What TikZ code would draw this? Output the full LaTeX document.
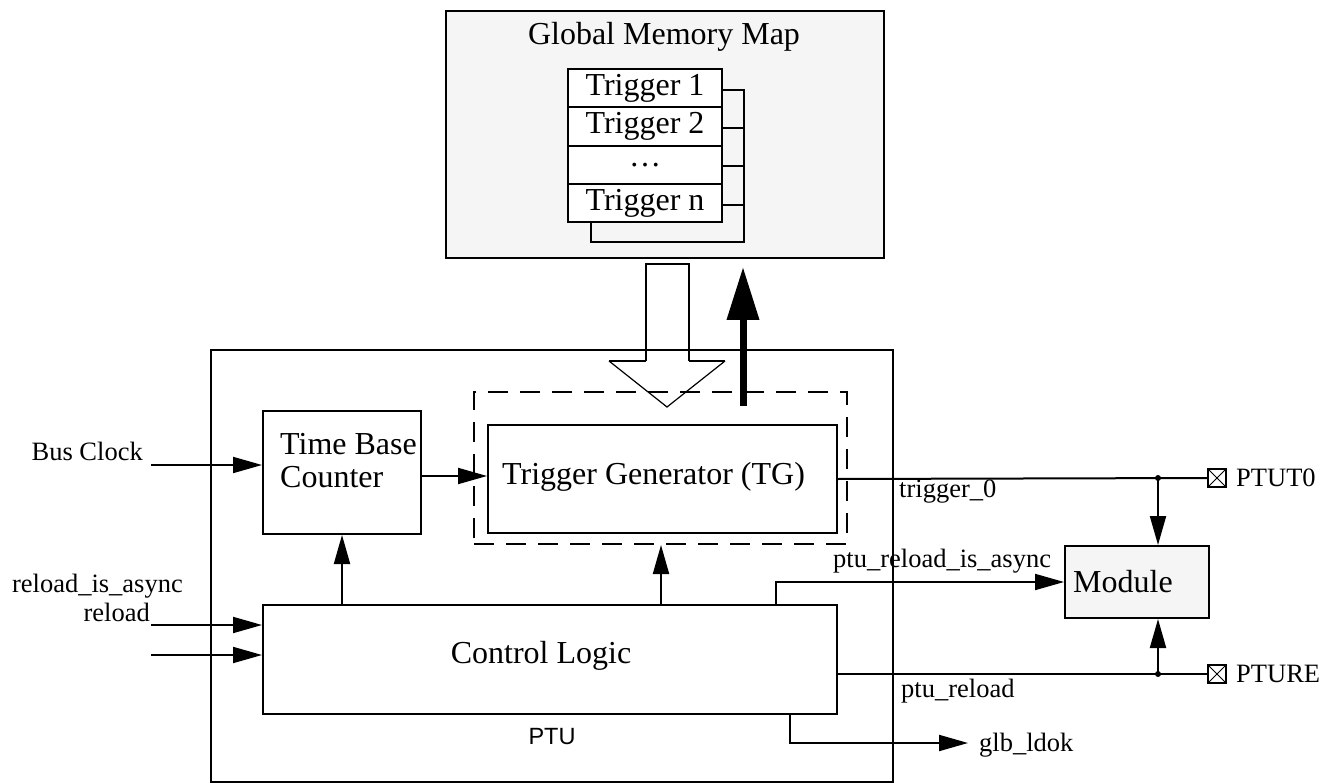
\documentclass[tikz,border=0pt]{standalone}
\usepackage{fontspec}
\setmainfont{Liberation Serif}
\newfontfamily\ptusans{Liberation Sans}
\usetikzlibrary{arrows.meta}
\definecolor{memfill}{RGB}{245,245,245}
\newcommand\bigtxt{\fontsize{32}{33}\selectfont}
\newcommand\smtxt{\fontsize{26.5}{30}\selectfont}
\begin{document}
\begin{tikzpicture}[x=1pt,y=-1pt,
  box/.style={draw, line width=2pt, inner sep=0pt, anchor=north west, font=\bigtxt},
  lbl/.style={inner sep=0pt, font=\smtxt},
  blk/.style={inner sep=0pt, font=\bigtxt},
  wire/.style={line width=2pt},
  arr/.style={line width=2pt, -{Triangle[length=29pt,width=16pt]}},
  pin/.style={draw, line width=1.5pt, minimum size=18pt, inner sep=0pt,
    path picture={\draw[line width=1pt] (path picture bounding box.north west) -- (path picture bounding box.south east) (path picture bounding box.north east) -- (path picture bounding box.south west);}},
  jdot/.style={circle, fill, inner sep=0pt, minimum size=6pt},
]
\useasboundingbox (0,0) rectangle (1335,783);

% Global memory map
\node[box, fill=memfill, minimum width=438pt, minimum height=247pt] (mem) at (445,10) {};
\node[blk, anchor=base] (memt) at (664,45) {Global Memory Map};
\draw[wire] (721,90) -- (744,90) -- (744,242) -- (591,242) -- (591,221);
\draw[wire] (721,128) -- (744,128) (721,166) -- (744,166) (721,205) -- (744,205);
\node[box, fill=white, minimum width=154pt, minimum height=38pt] (t1) at (567,68) {Trigger 1};
\node[box, fill=white, minimum width=154pt, minimum height=39pt] (t2) at (567,106) {Trigger 2};
\node[box, fill=white, minimum width=154pt, minimum height=38pt] (t3) at (567,145) {\dots};
\node[box, fill=white, minimum width=154pt, minimum height=38pt] (tn) at (567,183) {Trigger n};

% PTU
\node[box, minimum width=682pt, minimum height=432pt] (ptu) at (210,349) {};
\node[inner sep=0pt, font=\ptusans\fontsize{23.5}{26}\selectfont] (ptul) at (552,737) {PTU};

% hollow arrow (memory to TG)
\draw[line width=2pt] (646,361) -- (646,264) -- (689,264) -- (689,361);
\draw[line width=2pt] (646,361) -- (609,361) (689,361) -- (725,361);
\draw[line width=1.2pt] (609,361) -- (667,407) -- (725,361);

% blocks
\node[box, dash pattern=on 20pt off 12pt, minimum width=373pt, minimum height=152pt] (tgd) at (473,391) {};
\node[box, minimum width=349pt, minimum height=108pt] (tg) at (487,424) {};
\node[blk, anchor=west] (tgl) at (502,477) {Trigger Generator (TG)};
\node[box, minimum width=158pt, minimum height=123pt] (tbc) at (262,410) {};
\node[blk, anchor=west, align=left] (tbcl) at (280,461) {Time Base\\Counter};
\node[box, minimum width=574pt, minimum height=109pt] (cl) at (262,604) {};
\node[blk] (cll) at (541,656) {Control Logic};
\node[box, fill=memfill, minimum width=144pt, minimum height=72pt] (mod) at (1064,545) {};
\node[blk] (modl) at (1123,582) {Module};

% black arrow (TG to memory)
\coordinate (bu0) at (743,406);
\coordinate (bu1) at (743,267);
\draw[line width=7pt, -{Triangle[length=53pt,width=31pt]}] (bu0) -- (bu1);

% pins and junctions
\node[pin] (p0) at (1217,478) {};
\node[pin] (pr) at (1217,674) {};
\node[lbl, anchor=west] (p0l) at (1236,478) {PTUT0};
\node[lbl, anchor=west] (prl) at (1236,674) {PTURE};
\node[jdot] (j0) at (1158,478) {};
\node[jdot] (jr) at (1158,674) {};

% outputs
\draw[wire] (tg.east) -- (p0.west);
\draw[arr] (j0.center) -- (j0.center |- mod.north);
\draw[wire] (cl.east |- pr.west) -- (pr.west);
\draw[arr] (jr.center) -- (jr.center |- mod.south);
\coordinate (cla) at (776,604);
\draw[arr] (cla) |- (mod.west);
\coordinate (clg) at (790,713);
\coordinate (glk) at (968,743);
\draw[arr] (clg) |- (glk);
\node[lbl, anchor=base west] (glkl) at (979,751) {glb\_ldok};
\node[lbl, anchor=base west] (trg) at (899,497) {trigger\_0};
\node[lbl, anchor=base west] (pral) at (833,567) {ptu\_reload\_is\_async};
\node[lbl, anchor=base west] (prll) at (901,697) {ptu\_reload};

% inputs
\coordinate (bcs) at (151,465);
\draw[arr] (bcs) -- (bcs -| tbc.west);
\node[lbl, anchor=base east] (bcl) at (143,460) {Bus Clock};
\coordinate (ras) at (151,625);
\draw[arr] (ras) -- (ras -| cl.west);
\node[lbl, anchor=base east] (ral) at (183,592) {reload\_is\_async};
\coordinate (rls) at (151,655);
\draw[arr] (rls) -- (rls -| cl.west);
\node[lbl, anchor=base east] (rll) at (150,621) {reload};

% internal arrows
\coordinate (ty) at (0,476);
\draw[arr] (tbc.east |- ty) -- (tg.west |- ty);
\draw[arr] (tbc.south |- cl.north) -- (tbc.south);
\coordinate (clt) at (661,604);
\draw[arr] (clt) -- (clt |- tgd.south);
\end{tikzpicture}
\end{document}
